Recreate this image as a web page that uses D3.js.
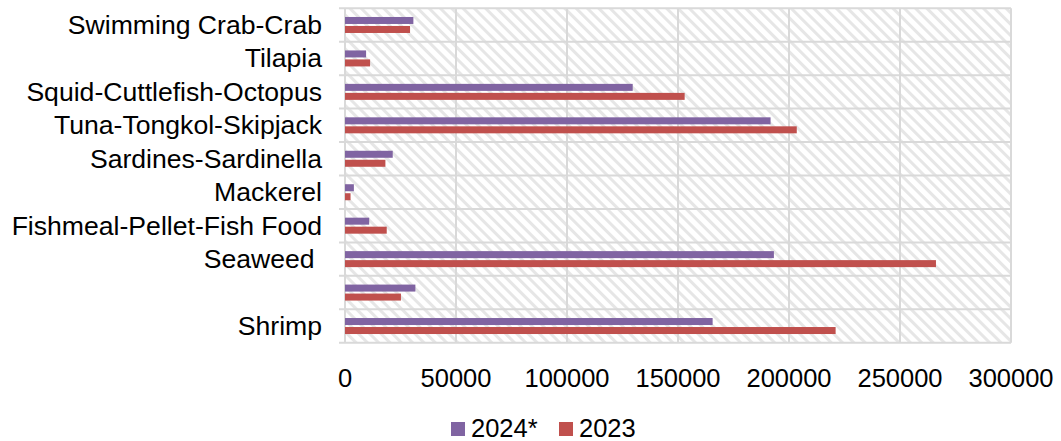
<!DOCTYPE html>
<html>
<head>
<meta charset="utf-8">
<script src="https://cdn.jsdelivr.net/npm/d3@7"></script>
<style>
  html, body { margin: 0; padding: 0; background: #ffffff; }
  svg { display: block; }
  text { font-family: "Liberation Sans", Arial, sans-serif; fill: #000; }
</style>
</head>
<body>
<svg id="chart" width="1061" height="441"></svg>
<script>
// Categories listed from top to bottom
const categories = [
  "Swimming Crab-Crab",
  "Tilapia",
  "Squid-Cuttlefish-Octopus",
  "Tuna-Tongkol-Skipjack",
  "Sardines-Sardinella",
  "Mackerel",
  "Fishmeal-Pellet-Fish Food",
  "Seaweed ",
  "",
  "Shrimp"
];
const seriesNames = ["2024*", "2023"];
const values2024 = [30800, 9500, 129600, 191700, 21500, 4000, 10900, 193200, 31700, 165600];
const values2023 = [29300, 11300, 153000, 203500, 18200, 2500, 18800, 266200, 25200, 221000];
const xTicks = [0, 50000, 100000, 150000, 200000, 250000, 300000];
const colors = ["#8064A2", "#C0504D"];

const svg = d3.select("#chart");
const plotLeft = 345, plotRight = 1011, plotTop = 8.25, plotBottom = 342.75;

const x = d3.scaleLinear().domain([0, 300000]).range([plotLeft, plotRight]);
const y = d3.scaleBand().domain(categories).range([plotTop, plotBottom]).padding(0);

// hatch pattern (downward diagonal)
const defs = svg.append("defs");
const pat = defs.append("pattern")
  .attr("id", "hatch")
  .attr("patternUnits", "userSpaceOnUse")
  .attr("width", 8).attr("height", 8)
  .attr("patternTransform", "rotate(-45)");
pat.append("rect").attr("width", 8).attr("height", 8).attr("fill", "#ffffff");
pat.append("rect").attr("x", 0).attr("y", 0).attr("width", 3).attr("height", 8).attr("fill", "#e6e6e6");

svg.append("rect")
  .attr("x", plotLeft).attr("y", plotTop)
  .attr("width", plotRight - plotLeft).attr("height", plotBottom - plotTop)
  .attr("fill", "url(#hatch)");

// vertical gridlines
svg.append("g").selectAll("line").data(xTicks).join("line")
  .attr("x1", d => x(d)).attr("x2", d => x(d))
  .attr("y1", plotTop).attr("y2", plotBottom)
  .attr("stroke", "#d9d9d9").attr("stroke-width", 2);

// horizontal gridlines at category boundaries
const bounds = categories.map(c => y(c)).concat([plotBottom]);
svg.append("g").selectAll("line").data(bounds).join("line")
  .attr("x1", plotLeft - 6).attr("x2", plotRight)
  .attr("y1", d => d).attr("y2", d => d)
  .attr("stroke", "#d9d9d9").attr("stroke-width", 2);

// bars
const barH = 7;
const rows = categories.map((c, i) => ({ c, v: [values2024[i], values2023[i]] }));
const g = svg.append("g");
seriesNames.forEach((s, si) => {
  g.selectAll(".bar" + si).data(rows).join("rect")
    .attr("class", "bar" + si)
    .attr("x", x(0))
    .attr("y", d => y(d.c) + y.bandwidth() / 2 + (si === 0 ? -barH - 1 : 1))
    .attr("width", d => x(d.v[si]) - x(0))
    .attr("height", barH)
    .attr("fill", colors[si]);
});

// category labels
svg.append("g").selectAll("text").data(categories).join("text")
  .attr("x", 322)
  .attr("y", d => y(d) + y.bandwidth() / 2 + 9)
  .attr("text-anchor", "end")
  .attr("font-size", 26.6)
  .style("white-space", "pre")
  .text(d => d);

// x tick labels
svg.append("g").selectAll("text").data(xTicks).join("text")
  .attr("x", d => x(d))
  .attr("y", 387)
  .attr("text-anchor", "middle")
  .attr("font-size", 25.5)
  .text(d => d3.format("d")(d));

// legend
const legend = svg.append("g");
const legendItems = [
  { name: seriesNames[0], color: colors[0], x: 451 },
  { name: seriesNames[1], color: colors[1], x: 559 }
];
legendItems.forEach(it => {
  legend.append("rect").attr("x", it.x).attr("y", 422).attr("width", 14).attr("height", 14).attr("fill", it.color);
  legend.append("text").attr("x", it.x + 20).attr("y", 437).attr("font-size", 25.5).text(it.name);
});
</script>
</body>
</html>
